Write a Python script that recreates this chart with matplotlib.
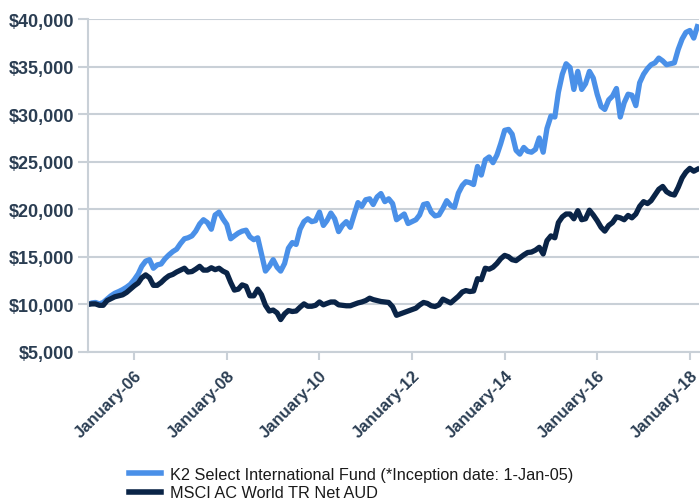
import pandas as pd
import numpy as np
import matplotlib.pyplot as plt
import matplotlib.dates as mdates
from matplotlib.ticker import FuncFormatter

# monthly growth of $10,000, Jan 2005 - Mar 2018
k2_fund = [
    10000, 10150, 10200, 10050, 10200, 10550, 10900, 11170, 11350, 11550, 11800, 12100,
    12600, 13200, 14000, 14550, 14700, 13800, 14150, 14250, 14800, 15200, 15550, 15800,
    16400, 16900, 17000, 17200, 17700, 18450, 18900, 18600, 17900, 19400, 19700, 19000,
    18400, 16900, 17200, 17500, 17700, 17800, 17100, 16800, 17000, 15300, 13500, 14000,
    14700, 13900, 13500, 14300, 15900, 16500, 16300, 17900, 18700, 19000, 18700, 18800,
    19700, 18300, 18800, 19600, 19000, 17650, 18300, 18700, 18100, 19400, 20700, 20300,
    21000, 21100, 20500, 21300, 21650, 20800, 21100, 20600, 18900, 19200, 19500, 18500,
    18700, 18900, 19400, 20500, 20600, 19700, 19300, 19400, 20100, 20900, 20400, 20200,
    21700, 22500, 22900, 22800, 22600, 24500, 23600, 25200, 25500, 24900, 25700, 26900,
    28300, 28400, 27900, 26200, 25800, 26500, 26100, 26000, 26300, 27500, 26000, 28500,
    29800, 29700, 32300, 34200, 35300, 34900, 32600, 34500, 32600, 33200, 34500, 33800,
    32100, 30800, 30500, 31500, 31900, 32700, 29700, 31200, 32100, 32000, 30900, 33300,
    34200, 34800, 35200, 35400, 35900, 35600, 35200, 35300, 35400, 36800, 37900, 38600,
    38800, 38000, 39200,
]
msci_acwi = [
    10000, 10050, 10050, 9900, 9900, 10400, 10600, 10800, 10900, 11000, 11250, 11600,
    11950, 12250, 12800, 13100, 12800, 12000, 12000, 12300, 12700, 13000, 13150, 13400,
    13600, 13800, 13400, 13450, 13700, 14000, 13600, 13600, 13850, 13650, 13800, 13500,
    13300, 12300, 11500, 11600, 12050, 11900, 10900, 10900, 11600, 11000, 9900, 9300,
    9400, 9100, 8400, 9000, 9350, 9250, 9300, 9700, 10050, 9800, 9800, 9900,
    10250, 9950, 10100, 10250, 10250, 9950, 9900, 9850, 9850, 10000, 10150, 10250,
    10400, 10650, 10500, 10400, 10300, 10250, 10200, 9750, 8850, 9000, 9150, 9300,
    9450, 9600, 9930, 10200, 10100, 9850, 9770, 9950, 10550, 10350, 10150, 10500,
    10850, 11300, 11450, 11350, 11400, 12700, 12600, 13800, 13700, 13900, 14300, 14800,
    15150, 15000, 14700, 14600, 14900, 15200, 15450, 15500, 15700, 16000, 15300, 16700,
    17200, 17000, 18600, 19200, 19500, 19500, 19000, 19850, 18900, 19000, 19900, 19400,
    18800, 18100, 17700, 18300, 18600, 19200, 19100, 18900, 19350, 19100, 19500, 20300,
    20800, 20600, 20900, 21500, 22100, 22400, 21850, 21600, 21500, 22300, 23300, 23900,
    24300, 24000, 24200,
]
dates = pd.date_range("2005-01-01", periods=len(k2_fund), freq="MS")

labels = ["K2 Select International Fund (*Inception date: 1-Jan-05)",
          "MSCI AC World TR Net AUD"]
colors = ["#4a90e8", "#0a2447"]
tick_years = [2006, 2008, 2010, 2012, 2014, 2016, 2018]

plt.rcParams['font.family'] = ['Liberation Sans', 'DejaVu Sans']

fig = plt.figure(figsize=(7.0, 5.02), dpi=100)
ax = fig.add_axes([0.1257, 0.297, 0.873, 0.663])

grid_col = "#c9d0d7"
text_col = "#2a3d52"

ax.plot(dates, k2_fund, color=colors[0], lw=3.8, label=labels[0], solid_joinstyle="round")
ax.plot(dates, msci_acwi, color=colors[1], lw=3.8, label=labels[1], solid_joinstyle="round")

ax.set_ylim(5000, 40000)
ax.set_yticks(np.arange(5000, 40001, 5000))
ax.yaxis.set_major_formatter(FuncFormatter(lambda v, p: f"${v:,.0f}"))
ax.set_xlim(pd.Timestamp("2005-01-01"), pd.Timestamp("2018-03-15"))
ax.set_xticks([pd.Timestamp(f"{y}-01-01") for y in tick_years])
ax.xaxis.set_major_formatter(mdates.DateFormatter("January-%y"))

ax.grid(axis="y", color=grid_col, lw=1.5)
ax.set_axisbelow(True)
for s in ["top", "right"]:
    ax.spines[s].set_visible(False)
for s in ["left", "bottom"]:
    ax.spines[s].set_color(grid_col)
    ax.spines[s].set_linewidth(1.5)

ax.tick_params(axis="y", length=7, width=1.5, color=grid_col, labelsize=13,
               labelcolor=text_col, pad=3)
ax.tick_params(axis="x", length=6, width=1.5, color=grid_col, labelsize=12,
               labelcolor=text_col, pad=5)
for t in ax.get_yticklabels():
    t.set_fontweight("bold")
for t in ax.get_xticklabels():
    t.set_fontweight("bold")
    t.set_rotation(45)
    t.set_ha("right")
    t.set_rotation_mode("anchor")

fig.legend(loc="upper left", bbox_to_anchor=(0.184, 0.068), bbox_transform=fig.transFigure,
           frameon=False, fontsize=11.7, handlelength=2.0, handletextpad=0.55,
           labelspacing=0.22, borderaxespad=0, borderpad=0)
leg = fig.legends[0]
for line in leg.get_lines():
    line.set_linewidth(4)
for t in leg.get_texts():
    t.set_color("#1a1a1a")

fig.savefig("out.png", dpi=100)
